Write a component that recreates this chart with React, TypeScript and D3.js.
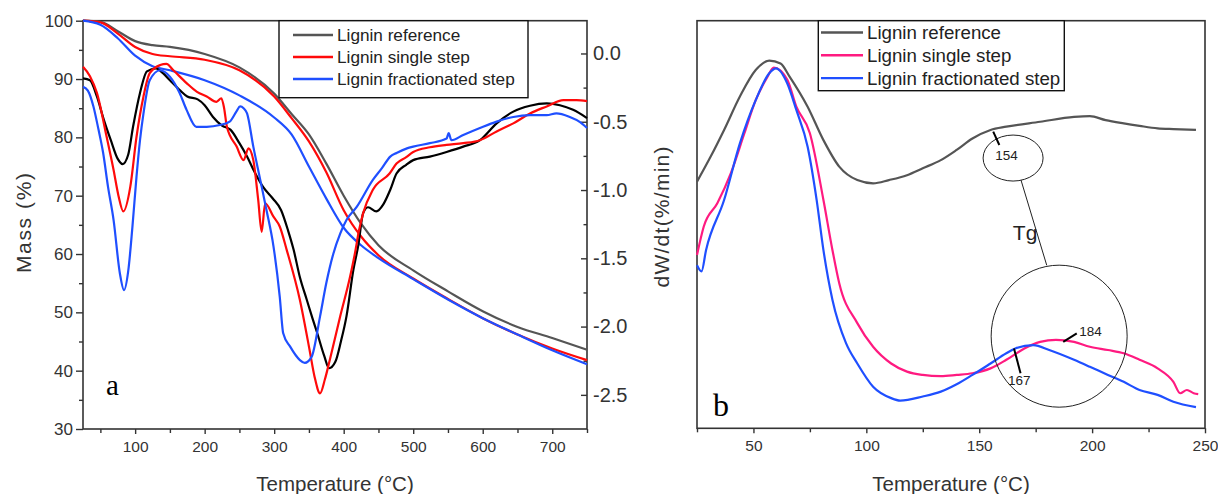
import React, { useEffect, useRef } from 'react'
import * as d3 from 'd3'

// ---- panel a : TG curves (Mass %, left axis) ----
const tgTemp = [25, 50, 75, 100, 125, 150, 200, 250, 300, 325, 350, 375, 400, 425, 450, 500, 550, 600, 650, 700, 750]
const tgRef = [100, 99.8, 98.2, 96.5, 95.8, 95.5, 94.3, 92.0, 87.5, 84.0, 80.5, 75.5, 70.0, 65.2, 61.5, 57.2, 53.6, 50.2, 47.5, 45.6, 43.6]
const tgSingle = [100, 99.7, 97.8, 95.5, 94.3, 93.9, 93.3, 91.5, 87.0, 83.3, 79.3, 74.0, 67.5, 63.0, 59.8, 55.8, 52.3, 49.0, 46.2, 43.8, 41.8]
const tgFrac = [100, 99.3, 97.0, 94.0, 92.2, 91.5, 89.8, 87.2, 83.4, 80.5, 75.0, 69.5, 64.5, 61.5, 59.3, 55.7, 52.2, 49.0, 46.2, 43.5, 41.1]

// ---- panel a : DTG curves (dW/dt, right axis) ----
const dtgRefTemp = [25, 35, 45, 55, 65, 75, 82, 90, 97, 107, 117, 130, 140, 150, 165, 175, 190, 200, 212, 225, 237, 250, 261, 272, 284, 298, 310, 320, 328, 337, 347, 355, 362, 372, 379, 388, 396, 404, 414, 421, 428, 435, 447, 457, 467, 476, 490, 500, 524, 548, 572, 596, 620, 644, 668, 692, 711, 730, 750]
const dtgRef = [-0.183, -0.196, -0.315, -0.486, -0.635, -0.772, -0.81, -0.742, -0.537, -0.289, -0.131, -0.11, -0.144, -0.196, -0.272, -0.315, -0.336, -0.379, -0.465, -0.529, -0.558, -0.657, -0.755, -0.87, -0.977, -1.062, -1.148, -1.297, -1.438, -1.639, -1.805, -1.938, -2.049, -2.215, -2.305, -2.258, -2.109, -1.925, -1.583, -1.404, -1.169, -1.126, -1.156, -1.105, -0.998, -0.879, -0.815, -0.781, -0.755, -0.721, -0.682, -0.635, -0.512, -0.426, -0.383, -0.366, -0.379, -0.413, -0.473]

const dtgSingleTemp = [25, 35, 45, 59, 69, 76, 83, 93, 102, 112, 121, 136, 145, 155, 174, 189, 203, 217, 224, 228, 232, 246, 256, 263, 270, 277, 282, 287, 299, 308, 318, 337, 351, 358, 366, 373, 380, 395, 409, 416, 422, 428, 442, 466, 476, 490, 500, 524, 548, 572, 596, 620, 644, 668, 692, 716, 735, 750]
const dtgSingle = [-0.097, -0.166, -0.289, -0.61, -0.853, -1.041, -1.156, -0.977, -0.61, -0.315, -0.144, -0.085, -0.076, -0.123, -0.217, -0.281, -0.315, -0.354, -0.328, -0.401, -0.537, -0.682, -0.781, -0.695, -0.781, -1.071, -1.306, -1.097, -1.195, -1.267, -1.438, -1.805, -2.173, -2.365, -2.489, -2.386, -2.245, -1.925, -1.639, -1.468, -1.297, -1.169, -0.998, -0.879, -0.806, -0.759, -0.721, -0.687, -0.67, -0.657, -0.635, -0.571, -0.512, -0.439, -0.388, -0.341, -0.341, -0.349]

const dtgFracTemp = [25, 32, 40, 47, 54, 61, 69, 78, 84, 90, 96, 102, 107, 112, 121, 136, 150, 164, 174, 188, 203, 222, 236, 246, 251, 256, 261, 270, 280, 289, 299, 308, 313, 323, 337, 344, 354, 366, 375, 385, 395, 404, 419, 442, 455, 467, 476, 491, 500, 524, 548, 551, 555, 572, 596, 620, 644, 668, 692, 706, 725, 740, 750]
const dtgFrac = [-0.243, -0.272, -0.388, -0.55, -0.729, -0.977, -1.22, -1.609, -1.733, -1.596, -1.276, -0.9, -0.635, -0.439, -0.196, -0.123, -0.17, -0.289, -0.413, -0.537, -0.537, -0.524, -0.499, -0.422, -0.388, -0.401, -0.439, -0.682, -0.926, -1.148, -1.412, -1.78, -2.049, -2.147, -2.245, -2.266, -2.22, -1.925, -1.681, -1.468, -1.319, -1.22, -1.122, -0.926, -0.84, -0.755, -0.729, -0.695, -0.682, -0.657, -0.623, -0.584, -0.635, -0.597, -0.546, -0.499, -0.465, -0.452, -0.452, -0.439, -0.465, -0.503, -0.546]

// ---- panel b : DSC-like zoom (arbitrary units) ----
const bRefTemp = [25, 31, 37, 44, 51, 57, 62, 66, 74, 81, 88, 96, 103, 110, 118, 125, 133, 140, 147, 155, 162, 177, 192, 199, 206, 214, 221, 229, 236, 246]
const bRef = [60.5, 66.6, 73.2, 81.4, 87.9, 90.2, 89.5, 86.3, 78.9, 70.7, 64.2, 60.9, 60.1, 60.9, 62.1, 63.8, 65.8, 68.3, 71.1, 73.2, 74, 75.2, 76.4, 76.6, 75.6, 74.8, 74.2, 73.6, 73.4, 73.2]
const bSingleTemp = [25, 28, 34, 40, 46, 51, 56, 59, 65, 69, 75, 81, 85, 88, 96, 103, 111, 118, 125, 133, 140, 147, 155, 162, 170, 177, 184, 192, 199, 207, 214, 221, 229, 236, 239, 242, 245, 247]
const bSingle = [42.5, 49.5, 55.2, 62.6, 72.4, 80.5, 86, 88.5, 85.5, 78.9, 72.4, 56, 43.7, 35.6, 25.8, 20, 15.9, 13.9, 13.1, 12.8, 13.1, 13.5, 14.7, 16.8, 19.6, 21.2, 21.7, 21.2, 20, 19.2, 18.4, 16.8, 14.7, 11.4, 8.6, 9.4, 8.6, 8.4]
const bFracTemp = [25, 27, 29, 37, 44, 51, 57, 60, 65, 69, 74, 78, 81, 85, 91, 96, 103, 111, 115, 125, 133, 140, 147, 155, 162, 166, 174, 181, 192, 199, 207, 214, 221, 229, 236, 246]
const bFrac = [40, 38.5, 43.7, 56, 69.9, 80.5, 87.1, 88.3, 84.6, 78.1, 69.1, 56, 43.7, 31.5, 20.9, 15.9, 10.2, 7.4, 6.8, 7.8, 9, 10.8, 13.1, 15.9, 18.4, 19.6, 20.4, 19.2, 16.8, 15.1, 13.1, 11.4, 9.4, 8.2, 6.5, 5.2]

// ---- labels / ticks ----
const legendNames = ['Lignin reference', 'Lignin single step', 'Lignin fractionated step']
const massTicks = [30, 40, 50, 60, 70, 80, 90, 100]
const rateTicks = [0, -0.5, -1, -1.5, -2, -2.5]
const tempTicksA = [100, 200, 300, 400, 500, 600, 700]
const tempTicksB = [50, 100, 150, 200, 250]

// Tg annotation points in panel b (temperature, value)
const marks = [
  { label: '154', from: [156.2, 72.8], to: [158.9, 69.5], text: [162.1, 65.8] },
  { label: '184', from: [187.2, 21.2], to: [193.2, 23.3], text: [199.3, 22.6] },
  { label: '167', from: [165.4, 19.6], to: [168.3, 13.5], text: [167.7, 10.6] },
]

const W = 1218
const H = 494
const SANS = "'Liberation Sans', Arial, sans-serif"
const SERIF = "'Liberation Serif', 'Times New Roman', serif"
const AXIS = '#333'

export default function App() {
  const ref = useRef<SVGSVGElement>(null)

  useEffect(() => {
    const svg = d3.select(ref.current)
    svg.selectAll('*').remove()

    const styleAxis = (g, size) => {
      g.select('.domain').remove()
      g.selectAll('line').attr('stroke', AXIS).attr('stroke-width', 1.4)
      g.selectAll('text').attr('font-size', size).attr('font-family', SANS).attr('fill', '#333')
    }

    const pts = (xs, ys) => xs.map((x, i) => [x, ys[i]])

    // ================= panel a =================
    const xA = d3.scaleLinear().domain([25, 750]).range([83, 587])
    const yL = d3.scaleLinear().domain([30, 100]).range([429, 20.7])
    const yR = d3.scaleLinear().domain([-2.75, 0.24]).range([429, 20.7])

    const a = svg.append('g')

    // axes
    a.append('g')
      .attr('transform', `translate(0,${yL(30)})`)
      .call(d3.axisBottom(xA).tickValues(tempTicksA).tickSize(5).tickPadding(7).tickFormat((d) => String(d)))
      .call((g) => styleAxis(g, 15.5))
    a.append('g')
      .attr('transform', `translate(0,${yL(30)})`)
      .call(d3.axisBottom(xA).tickValues([50, 150, 250, 350, 450, 550, 650, 750]).tickSize(4).tickFormat(() => ''))
      .call((g) => styleAxis(g, 10))
    a.append('g')
      .attr('transform', `translate(${xA(25)},0)`)
      .call(d3.axisLeft(yL).tickValues(massTicks).tickSize(7).tickPadding(3).tickFormat((d) => String(d)))
      .call((g) => styleAxis(g, 17))
    a.append('g')
      .attr('transform', `translate(${xA(25)},0)`)
      .call(d3.axisLeft(yL).tickValues([35, 45, 55, 65, 75, 85, 95]).tickSize(4).tickFormat(() => ''))
      .call((g) => styleAxis(g, 10))
    a.append('g')
      .attr('transform', `translate(${xA(750)},0)`)
      .call(d3.axisRight(yR).tickValues(rateTicks).tickSize(-6).tickPadding(6).tickFormat((d) => (+d).toFixed(1)))
      .call((g) => styleAxis(g, 20))
    a.append('g')
      .attr('transform', `translate(${xA(750)},0)`)
      .call(d3.axisRight(yR).tickValues([-0.25, -0.75, -1.25, -1.75, -2.25]).tickSize(-3.5).tickFormat(() => ''))
      .call((g) => styleAxis(g, 10))

    // frame
    a.append('rect')
      .attr('x', xA(25)).attr('y', yL(100))
      .attr('width', xA(750) - xA(25)).attr('height', yL(30) - yL(100))
      .attr('fill', 'none').attr('stroke', AXIS).attr('stroke-width', 1.6)

    const lineL = d3.line().x((d) => xA(d[0])).y((d) => yL(d[1])).curve(d3.curveMonotoneX)
    const lineR = d3.line().x((d) => xA(d[0])).y((d) => yR(d[1])).curve(d3.curveMonotoneX)

    const seriesA = [
      { d: lineL(pts(tgTemp, tgRef)), c: '#555555' },
      { d: lineL(pts(tgTemp, tgSingle)), c: '#ff0a0a' },
      { d: lineL(pts(tgTemp, tgFrac)), c: '#1f4fff' },
      { d: lineR(pts(dtgRefTemp, dtgRef)), c: '#000000' },
      { d: lineR(pts(dtgSingleTemp, dtgSingle)), c: '#ff0a0a' },
      { d: lineR(pts(dtgFracTemp, dtgFrac)), c: '#1f4fff' },
    ]
    a.append('g')
      .selectAll('path')
      .data(seriesA)
      .join('path')
      .attr('d', (s) => s.d)
      .attr('fill', 'none')
      .attr('stroke', (s) => s.c)
      .attr('stroke-width', 2.2)
      .attr('stroke-linejoin', 'round')

    // legend a
    const legA = a.append('g')
    legA.append('rect')
      .attr('x', 279).attr('y', yL(100)).attr('width', 249).attr('height', 77)
      .attr('fill', '#fff').attr('stroke', '#111').attr('stroke-width', 1.4)
    const colA = ['#555555', '#ff0a0a', '#1f4fff']
    legendNames.forEach((name, i) => {
      const y = 35 + i * 22
      legA.append('line').attr('x1', 293).attr('x2', 333).attr('y1', y).attr('y2', y)
        .attr('stroke', colA[i]).attr('stroke-width', 2.4)
      legA.append('text').attr('x', 337).attr('y', y + 6).text(name)
        .attr('font-family', SANS).attr('font-size', 17.2).attr('fill', '#222')
    })

    // axis titles a
    a.append('text')
      .attr('transform', `translate(31,223) rotate(-90)`)
      .attr('text-anchor', 'middle').attr('font-family', SANS).attr('font-size', 21)
      .attr('textLength', 100).attr('fill', '#333').text('Mass (%)')
    a.append('text')
      .attr('transform', `translate(669,217) rotate(-90)`)
      .attr('text-anchor', 'middle').attr('font-family', SANS).attr('font-size', 21)
      .attr('textLength', 141).attr('fill', '#333').text('dW/dt(%/min)')
    a.append('text')
      .attr('x', (xA(25) + xA(750)) / 2).attr('y', 491)
      .attr('text-anchor', 'middle').attr('font-family', SANS).attr('font-size', 20.5)
      .attr('fill', '#333').text('Temperature (°C)')
    a.append('text')
      .attr('x', 106).attr('y', 395)
      .attr('font-family', SERIF).attr('font-size', 29).attr('fill', '#000').text('a')

    // ================= panel b =================
    const xB = d3.scaleLinear().domain([25, 250]).range([697, 1205])
    const yB = d3.scaleLinear().domain([0, 100]).range([428.3, 20.7])

    const b = svg.append('g')
    b.append('g')
      .attr('transform', `translate(0,${yB(0)})`)
      .call(d3.axisBottom(xB).tickValues(tempTicksB).tickSize(5).tickPadding(7).tickFormat((d) => String(d)))
      .call((g) => styleAxis(g, 15.5))
    b.append('g')
      .attr('transform', `translate(0,${yB(0)})`)
      .call(d3.axisBottom(xB).tickValues([25, 75, 125, 175, 225]).tickSize(4).tickFormat(() => ''))
      .call((g) => styleAxis(g, 10))
    b.append('rect')
      .attr('x', xB(25)).attr('y', yB(100))
      .attr('width', xB(250) - xB(25)).attr('height', yB(0) - yB(100))
      .attr('fill', 'none').attr('stroke', AXIS).attr('stroke-width', 1.6)

    const lineB = d3.line().x((d) => xB(d[0])).y((d) => yB(d[1])).curve(d3.curveMonotoneX)
    const colB = ['#555555', '#ff1a80', '#1f4fff']
    const seriesB = [
      pts(bRefTemp, bRef),
      pts(bSingleTemp, bSingle),
      pts(bFracTemp, bFrac),
    ]
    b.append('g')
      .selectAll('path')
      .data(seriesB)
      .join('path')
      .attr('d', (s) => lineB(s))
      .attr('fill', 'none')
      .attr('stroke', (_, i) => colB[i])
      .attr('stroke-width', 2.2)
      .attr('stroke-linejoin', 'round')

    // annotations
    const ann = b.append('g')
    ann.append('ellipse')
      .attr('cx', xB(165)).attr('cy', yB(66.3)).attr('rx', 30).attr('ry', 23)
      .attr('fill', 'none').attr('stroke', '#222').attr('stroke-width', 1)
    ann.append('ellipse')
      .attr('cx', xB(185.4)).attr('cy', yB(22.6)).attr('rx', 68).attr('ry', 71)
      .attr('fill', 'none').attr('stroke', '#222').attr('stroke-width', 1)
    ann.append('line')
      .attr('x1', xB(168.5)).attr('y1', yB(60.9)).attr('x2', xB(179.9)).attr('y2', yB(40))
      .attr('stroke', '#222').attr('stroke-width', 1)
    ann.append('text')
      .attr('x', xB(164.9)).attr('y', yB(46.2))
      .attr('font-family', SANS).attr('font-size', 21).attr('fill', '#222').text('Tg')
    marks.forEach((m) => {
      ann.append('line')
        .attr('x1', xB(m.from[0])).attr('y1', yB(m.from[1]))
        .attr('x2', xB(m.to[0])).attr('y2', yB(m.to[1]))
        .attr('stroke', '#000').attr('stroke-width', 2)
      ann.append('text')
        .attr('x', xB(m.text[0])).attr('y', yB(m.text[1]))
        .attr('text-anchor', 'middle').attr('font-family', SANS).attr('font-size', 13.5)
        .attr('fill', '#222').text(m.label)
    })

    // legend b
    const legB = b.append('g')
    legB.append('rect')
      .attr('x', 818.3).attr('y', yB(100)).attr('width', 246).attr('height', 70)
      .attr('fill', '#fff').attr('stroke', '#111').attr('stroke-width', 1.4)
    legendNames.forEach((name, i) => {
      const y = 32.5 + i * 22.8
      legB.append('line').attr('x1', 821).attr('x2', 863).attr('y1', y).attr('y2', y)
        .attr('stroke', colB[i]).attr('stroke-width', 2.4)
      legB.append('text').attr('x', 867).attr('y', y + 6.5).text(name)
        .attr('font-family', SANS).attr('font-size', 18.7).attr('fill', '#222')
    })

    b.append('text')
      .attr('x', (xB(25) + xB(250)) / 2).attr('y', 491)
      .attr('text-anchor', 'middle').attr('font-family', SANS).attr('font-size', 20.5)
      .attr('fill', '#333').text('Temperature (°C)')
    b.append('text')
      .attr('x', 713).attr('y', 416)
      .attr('font-family', SERIF).attr('font-size', 32).attr('fill', '#000').text('b')
  }, [])

  return (
    <svg
      ref={ref}
      width={W}
      height={H}
      style={{ position: 'absolute', left: 0, top: 0, background: '#fff' }}
    />
  )
}
